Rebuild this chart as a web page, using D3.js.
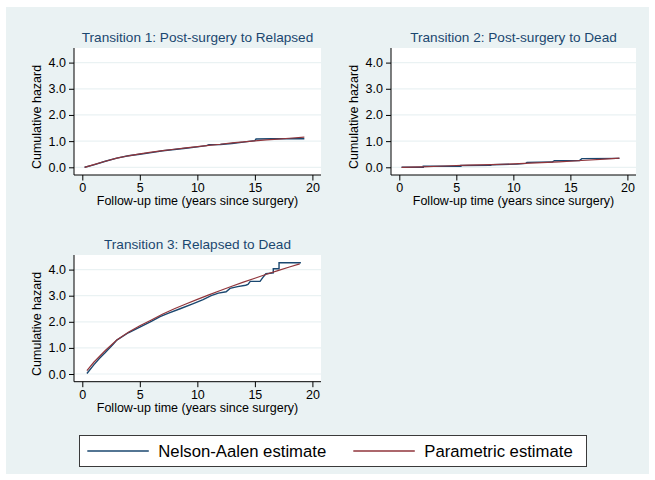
<!DOCTYPE html>
<html>
<head>
<meta charset="utf-8">
<script src="https://cdn.jsdelivr.net/npm/d3@7"></script>
<style>
    body { margin: 0; background: #ffffff; }
    svg text { font-family: "Liberation Sans", Arial, sans-serif; }
</style>
</head>
<body>
<div id="chart"></div>
<script>
// Tick labels
const xTicks = [0, 5, 10, 15, 20];
const yTicks = [0, 1, 2, 3, 4];

const panelTitles = [
    'Transition 1: Post-surgery to Relapsed',
    'Transition 2: Post-surgery to Dead',
    'Transition 3: Relapsed to Dead'
];
const seriesNames = ['Nelson-Aalen estimate', 'Parametric estimate'];

// [time, cumulative hazard]
const naTrans1 = [
    [0.2, 0], [1, 0.09], [2, 0.23], [3, 0.35], [4, 0.44], [5, 0.5], [6, 0.56],
    [7, 0.63], [8, 0.68], [9, 0.73], [10, 0.78], [10.8, 0.83], [11, 0.86], [12, 0.87],
    [13, 0.91], [14, 0.96], [15, 1.02], [15.1, 1.08], [16.5, 1.09], [19.3, 1.09]
];
const parTrans1 = [
    [0.2, 0], [1, 0.1], [2, 0.23], [3, 0.35], [4, 0.44], [5, 0.51], [6, 0.58],
    [7, 0.64], [8, 0.69], [9, 0.74], [10, 0.79], [11, 0.84], [12, 0.88], [13, 0.93],
    [14, 0.97], [15, 1.01], [16, 1.05], [17, 1.08], [18, 1.11], [19.3, 1.15]
];

const naTrans2 = [
    [0.2, 0], [2.1, 0], [2.1, 0.04], [5.4, 0.04], [5.4, 0.07], [8, 0.08], [8.2, 0.1],
    [10.3, 0.12], [11.1, 0.15], [11.2, 0.19], [13.4, 0.2], [13.6, 0.25], [15.8, 0.26],
    [16, 0.33], [19.3, 0.34]
];
const parTrans2 = [
    [0.2, 0], [2, 0.02], [4, 0.05], [6, 0.08], [8, 0.1], [10, 0.13], [12, 0.17],
    [14, 0.21], [16, 0.26], [18, 0.31], [19.3, 0.35]
];

const naTrans3 = [
    [0.4, 0.02], [1, 0.35], [1.5, 0.6], [2, 0.82], [2.7, 1.15], [3, 1.3], [4, 1.58],
    [5, 1.8], [6, 2.02], [6.76, 2.2], [7.5, 2.33], [8.5, 2.5], [9.65, 2.7], [10.5, 2.85],
    [11.2, 3.0], [11.83, 3.1], [12.5, 3.15], [12.84, 3.28], [13.5, 3.35], [14.2, 3.4],
    [14.4, 3.43], [14.6, 3.55], [15.45, 3.55], [15.7, 3.7], [15.96, 3.84], [16.6, 3.87],
    [16.6, 4.03], [17.1, 4.03], [17.1, 4.26], [19.0, 4.26]
];
const parTrans3 = [
    [0.4, 0.13], [1, 0.45], [2, 0.9], [3, 1.3], [4, 1.6], [5, 1.85], [6, 2.07],
    [7, 2.3], [8, 2.5], [9, 2.68], [10, 2.86], [11, 3.03], [12, 3.2], [13, 3.36],
    [14, 3.52], [15, 3.67], [16, 3.82], [17, 3.96], [18, 4.1], [18.9, 4.22]
];

const colors = { na: '#1a476f', par: '#90353b' };
const bg = '#eaf2f3';

const svg = d3.select('#chart').append('svg')
    .attr('width', 655)
    .attr('height', 480);

// Outer graph region
svg.append('rect')
    .attr('x', 6).attr('y', 7)
    .attr('width', 643).attr('height', 467)
    .attr('fill', bg);

// Panel plot regions
const panels = [
    { title: panelTitles[0], na: naTrans1, par: parTrans1, left: 74, right: 321, top: 48, bottom: 175 },
    { title: panelTitles[1], na: naTrans2, par: parTrans2, left: 391, right: 636, top: 48, bottom: 175 },
    { title: panelTitles[2], na: naTrans3, par: parTrans3, left: 74, right: 321, top: 255, bottom: 381.7 }
];

panels.forEach(p => {
    const g = svg.append('g');

    const x = d3.scaleLinear()
        .domain([0, 20])
        .range([p.left + 8.3, p.right - 8.6]);
    const y = d3.scaleLinear()
        .domain([0, 4])
        .range([p.bottom - 7.7, p.top + 14.6]);

    g.append('rect')
        .attr('x', p.left).attr('y', p.top)
        .attr('width', p.right - p.left).attr('height', p.bottom - p.top)
        .attr('fill', '#ffffff');

    // Gridlines
    g.selectAll('line.grid')
        .data(yTicks)
        .join('line')
        .attr('class', 'grid')
        .attr('x1', p.left).attr('x2', p.right)
        .attr('y1', d => y(d)).attr('y2', d => y(d))
        .attr('stroke', bg)
        .attr('stroke-width', 1.2);

    // Axes
    const yAxis = g.append('g')
        .attr('transform', `translate(${p.left},0)`)
        .call(d3.axisLeft(y).tickValues(yTicks).tickFormat(d3.format('.1f'))
            .tickSize(5).tickSizeOuter(0).tickPadding(3));
    const xAxis = g.append('g')
        .attr('transform', `translate(0,${p.bottom})`)
        .call(d3.axisBottom(x).tickValues(xTicks).tickSize(5.5).tickSizeOuter(0).tickPadding(3));

    [yAxis, xAxis].forEach(a => {
        a.select('.domain').remove();
        a.selectAll('text')
            .attr('fill', '#000')
            .style('font-size', '12.5px');
        a.selectAll('.tick line').attr('stroke', '#000');
    });

    g.append('line')
        .attr('x1', p.left).attr('x2', p.left)
        .attr('y1', p.top).attr('y2', p.bottom)
        .attr('stroke', '#000');
    g.append('line')
        .attr('x1', p.left).attr('x2', p.right)
        .attr('y1', p.bottom).attr('y2', p.bottom)
        .attr('stroke', '#000');

    // Curves
    const line = d3.line()
        .x(d => x(d[0]))
        .y(d => y(d[1]));

    g.append('path')
        .datum(p.na)
        .attr('d', line)
        .attr('fill', 'none')
        .attr('stroke', colors.na)
        .attr('stroke-width', 1.4);
    g.append('path')
        .datum(p.par)
        .attr('d', line)
        .attr('fill', 'none')
        .attr('stroke', colors.par)
        .attr('stroke-width', 1.2);

    // Titles
    g.append('text')
        .attr('x', (p.left + p.right) / 2)
        .attr('y', p.top - 6.3)
        .attr('text-anchor', 'middle')
        .attr('fill', '#1a476f')
        .style('font-size', '13.6px')
        .text(p.title);

    g.append('text')
        .attr('x', (p.left + p.right) / 2)
        .attr('y', p.bottom + 30)
        .attr('text-anchor', 'middle')
        .attr('fill', '#000')
        .style('font-size', '12.5px')
        .text('Follow-up time (years since surgery)');

    g.append('text')
        .attr('transform', `translate(${p.left - 33},${(y(0) + y(4)) / 2 + 2}) rotate(-90)`)
        .attr('text-anchor', 'middle')
        .attr('fill', '#000')
        .style('font-size', '12.5px')
        .text('Cumulative hazard');
});

// Legend
const legend = svg.append('g');
legend.append('rect')
    .attr('x', 79.5).attr('y', 435.5)
    .attr('width', 507).attr('height', 31)
    .attr('fill', '#ffffff')
    .attr('stroke', '#3a3a3a')
    .attr('stroke-width', 1);

const legendItems = [
    { name: seriesNames[0], color: colors.na, x0: 87.3 },
    { name: seriesNames[1], color: colors.par, x0: 353.3 }
];
legendItems.forEach(d => {
    legend.append('line')
        .attr('x1', d.x0).attr('x2', d.x0 + 61.5)
        .attr('y1', 451).attr('y2', 451)
        .attr('stroke', d.color)
        .attr('stroke-width', 1.3);
    legend.append('text')
        .attr('x', d.x0 + 71)
        .attr('y', 456.8)
        .attr('fill', '#000')
        .style('font-size', '16.7px')
        .text(d.name);
});
</script>
</body>
</html>
